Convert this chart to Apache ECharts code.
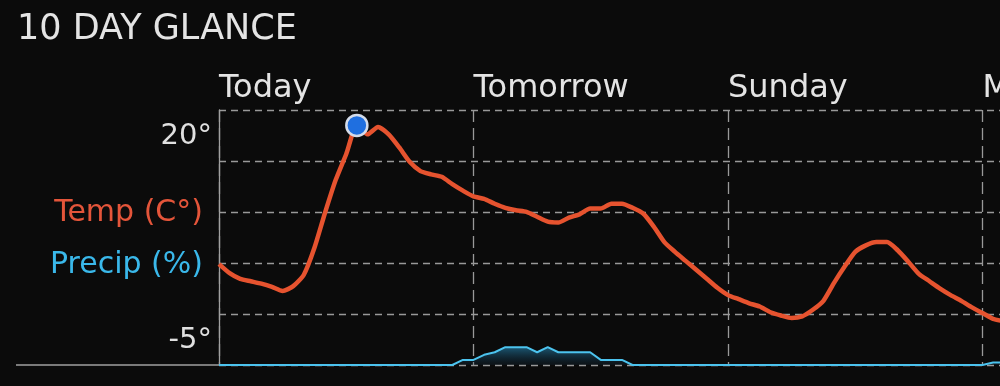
<!DOCTYPE html>
<html>
<head>
<meta charset="utf-8">
<script src="https://cdn.jsdelivr.net/npm/echarts@6/dist/echarts.min.js"></script>
<style>
html,body{margin:0;padding:0;background:#0b0b0b;}
#chart{width:1000px;height:386px;}
</style>
</head>
<body>
<div id="chart"></div>
<script>
// ---- data ----
const titleText = '10 DAY GLANCE';
const dayLabels = ['Today', 'Tomorrow', 'Sunday', 'Monday'];
const tempTicks = [-5, 20];
const legendTemp = 'Temp (C°)';
const legendPrecip = 'Precip (%)';
const nowHour = 13;
// hourly temperature (°C), hour 0 = start of today
const tempC = [
  4.3, 3.2, 2.5, 2.2, 1.9, 1.5, 1.0, 1.6, 3.0, 6.3,
  10.6, 14.6, 17.8, 21.3, 20.2, 21.1, 20.2, 18.6, 16.8, 15.7,
  15.3, 15.0, 14.1, 13.3, 12.6, 12.3, 11.7, 11.2, 10.9, 10.7,
  10.1, 9.5, 9.4, 10.0, 10.4, 11.1, 11.1, 11.7, 11.7, 11.2,
  10.5, 8.9, 7.0, 5.8, 4.7, 3.6, 2.5, 1.4, 0.5, 0.0,
  -0.5, -0.9, -1.6, -2.0, -2.3, -2.1, -1.3, -0.2, 2.0, 4.0,
  5.8, 6.6, 7.0, 7.0, 6.0, 4.6, 3.1, 2.2, 1.3, 0.5,
  -0.2, -1.0, -1.7, -2.4, -2.7
];
// hourly precipitation chance (%)
const precipPct = [
  0, 0, 0, 0, 0, 0, 0, 0, 0, 0,
  0, 0, 0, 0, 0, 0, 0, 0, 0, 0,
  0, 0, 0, 2, 2, 4, 5, 7, 7, 7,
  5, 7, 5, 5, 5, 5, 2, 2, 2, 0,
  0, 0, 0, 0, 0, 0, 0, 0, 0, 0,
  0, 0, 0, 0, 0, 0, 0, 0, 0, 0,
  0, 0, 0, 0, 0, 0, 0, 0, 0, 0,
  0, 0, 0, 1, 1
];

// ---- chart ----
const FONT = 'DejaVu Sans';
const chart = echarts.init(document.getElementById('chart'));
const tempData = tempC.map((v, i) => [i, v]);
const precipData = precipPct.map((v, i) => [i, v]);

chart.setOption({
  backgroundColor: '#0b0b0b',
  animation: false,
  title: {
    text: titleText, left: 12, top: 7,
    textStyle: { color: '#e4e4e4', fontFamily: FONT, fontWeight: 'normal', fontSize: 35 }
  },
  grid: { left: 219, top: 110, height: 255, width: 96 * 254.5 / 24, outerBoundsMode: 'none', containLabel: false },
  xAxis: {
    type: 'value', position: 'top', min: 0, max: 96, interval: 24,
    axisLine: { show: false }, axisTick: { show: false },
    axisLabel: {
      color: '#e4e4e4', fontFamily: FONT, fontSize: 32, margin: 5, align: 'left',
      formatter: v => dayLabels[v / 24] || ''
    },
    splitLine: { show: true, lineStyle: { color: '#999999', width: 1.3, type: [12, 6] } }
  },
  yAxis: [
    {
      type: 'value', min: -5 - 25 / 8.16, max: 20 + 26 / 8.16,
      axisLine: { show: true, lineStyle: { color: '#a0a0a0', width: 1.3 } },
      axisTick: { show: false },
      splitLine: { show: false },
      axisLabel: {
        customValues: tempTicks, color: '#e0e0e0', fontFamily: FONT, fontSize: 29, margin: 7,
        padding: [4, 0, 0, 0],
        formatter: v => v + '°'
      }
    },
    {
      type: 'value', min: 0, max: 100, interval: 20, position: 'left',
      axisLine: { show: false }, axisTick: { show: false }, axisLabel: { show: false },
      splitLine: { show: true, lineStyle: { color: '#999999', width: 1.3, type: [7, 5] } }
    }
  ],
  graphic: [
    { type: 'line', shape: { x1: 16, y1: 365, x2: 219, y2: 365 }, style: { stroke: '#a0a0a0', lineWidth: 1.5 } },
    { type: 'text', x: 203, y: 213, style: { text: legendTemp, fill: '#e4553a', font: '30px "DejaVu Sans"', textAlign: 'right', textVerticalAlign: 'middle' } },
    { type: 'text', x: 203, y: 265, style: { text: legendPrecip, fill: '#3ab8ea', font: '30px "DejaVu Sans"', textAlign: 'right', textVerticalAlign: 'middle' } }
  ],
  series: [
    {
      type: 'line', yAxisIndex: 1, data: precipData, symbol: 'none',
      lineStyle: { color: '#4cc3ee', width: 2 },
      areaStyle: {
        color: new echarts.graphic.LinearGradient(0, 0, 0, 1, [
          { offset: 0, color: 'rgba(40,150,200,0.8)' },
          { offset: 1, color: 'rgba(20,60,90,0.2)' }
        ])
      },
      z: 3
    },
    {
      type: 'line', yAxisIndex: 0, data: tempData, symbol: 'none', smooth: 0.2,
      lineStyle: { color: '#e6532f', width: 4.5 },
      z: 4
    },
    {
      type: 'scatter', yAxisIndex: 0, data: [[nowHour, tempC[nowHour]]],
      symbolSize: 21,
      itemStyle: { color: '#1f6fe0', borderColor: '#d4dcea', borderWidth: 2.5, opacity: 1 },
      z: 5
    }
  ]
});
</script>
</body>
</html>
